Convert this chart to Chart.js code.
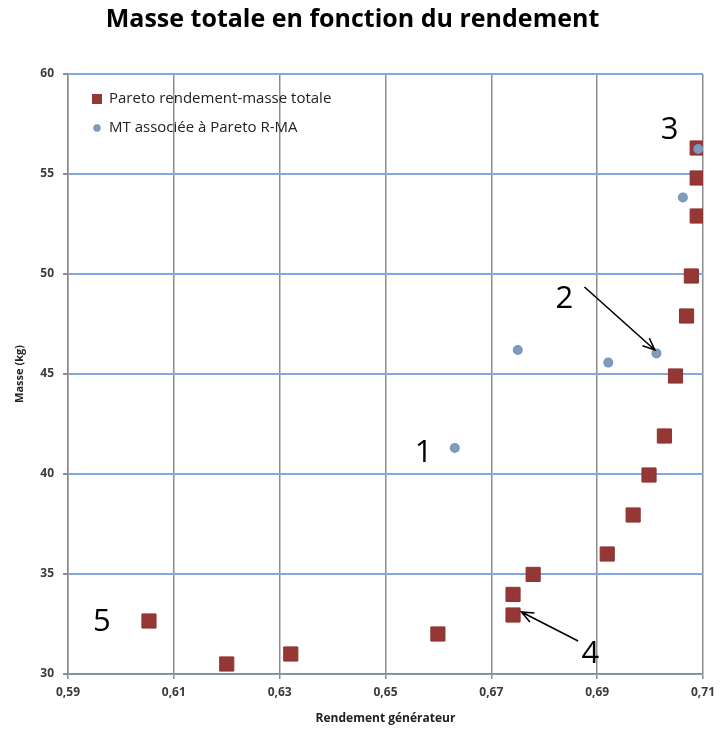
<!DOCTYPE html>
<html>
<head>
<meta charset="utf-8">
<script src="https://cdn.jsdelivr.net/npm/chart.js@4/dist/chart.umd.min.js"></script>
<style>
	html, body { margin: 0; padding: 0; background: #fff; }
	#wrap { width: 721px; height: 735px; }
</style>
</head>
<body>
<div id="wrap"><canvas id="chart" width="721" height="735"></canvas></div>
<script>
// Pareto rendement-masse totale
const paretoRendement = [0.6053, 0.6200, 0.6321, 0.6599, 0.6741, 0.6741, 0.6779, 0.6919, 0.6968, 0.6998, 0.7027, 0.7048, 0.7069, 0.7078, 0.7089, 0.7089, 0.7089]
const paretoMasse = [32.65, 30.5, 31.0, 32.0, 33.98, 32.95, 34.98, 36.0, 37.95, 39.95, 41.9, 44.9, 47.9, 49.9, 52.9, 54.8, 56.3]

// MT associée à Pareto R-MA
const mtRendement = [0.6631, 0.6750, 0.6921, 0.7012, 0.7062, 0.7091]
const mtMasse = [41.3, 46.2, 45.57, 46.03, 53.83, 56.25]

const xTicks = [0.59, 0.61, 0.63, 0.65, 0.67, 0.69, 0.71]
const yTicks = [30, 35, 40, 45, 50, 55, 60]

// numbered callouts and arrows (data coordinates)
const calloutLabels = ['1', '2', '3', '4', '5']
const calloutX = [0.6572, 0.6838, 0.7037, 0.6887, 0.5964]
const calloutY = [41.05, 48.75, 57.2, 31.0, 32.6]
const arrowFrom = [[0.6876, 49.35], [0.6864, 31.65]]
const arrowTo = [[0.7009, 46.2], [0.6757, 33.1]]

const font = "'Open Sans', 'Noto Sans', sans-serif"

function toPoints(xs, ys) {
	return xs.map((x, i) => ({ x: x, y: ys[i] }))
}

const annotationPlugin = {
	id: 'callouts',
	afterDatasetsDraw(chart) {
		const ctx = chart.ctx
		const xs = chart.scales.x
		const ys = chart.scales.y
		ctx.save()
		ctx.fillStyle = '#000'
		ctx.font = '31px ' + font
		ctx.textAlign = 'center'
		ctx.textBaseline = 'middle'
		calloutLabels.forEach((t, i) => {
			ctx.fillText(t, xs.getPixelForValue(calloutX[i]), ys.getPixelForValue(calloutY[i]))
		})
		ctx.strokeStyle = '#000'
		ctx.lineWidth = 1.6
		arrowFrom.forEach((f, i) => {
			const x1 = xs.getPixelForValue(f[0])
			const y1 = ys.getPixelForValue(f[1])
			const x2 = xs.getPixelForValue(arrowTo[i][0])
			const y2 = ys.getPixelForValue(arrowTo[i][1])
			const a = Math.atan2(y2 - y1, x2 - x1)
			ctx.beginPath()
			ctx.moveTo(x1, y1)
			ctx.lineTo(x2, y2)
			ctx.moveTo(x2 - 13 * Math.cos(a - 0.4), y2 - 13 * Math.sin(a - 0.4))
			ctx.lineTo(x2, y2)
			ctx.lineTo(x2 - 13 * Math.cos(a + 0.4), y2 - 13 * Math.sin(a + 0.4))
			ctx.stroke()
		})

		// legend inside the plot area
		const left = chart.chartArea.left
		const top = chart.chartArea.top
		ctx.font = '15px ' + font
		ctx.textAlign = 'left'
		ctx.fillStyle = '#953735'
		ctx.fillRect(left + 24, top + 20, 10, 10)
		ctx.fillStyle = '#222'
		ctx.fillText('Pareto rendement-masse totale', left + 41, top + 25)
		ctx.beginPath()
		ctx.arc(left + 29, top + 54, 3, 0, Math.PI * 2)
		ctx.fillStyle = '#8e9aa4'
		ctx.fill()
		ctx.strokeStyle = '#6f9ad0'
		ctx.lineWidth = 1.4
		ctx.stroke()
		ctx.fillStyle = '#222'
		ctx.fillText('MT associée à Pareto R-MA', left + 41, top + 54)
		ctx.restore()
	},
}

const ctx = document.getElementById('chart').getContext('2d')
new Chart(ctx, {
	type: 'scatter',
	data: {
		datasets: [
			{
				label: 'Pareto rendement-masse totale',
				data: toPoints(paretoRendement, paretoMasse),
				pointStyle: 'rect',
				pointRadius: 10,
				backgroundColor: '#953735',
				borderColor: '#8c3331',
				borderWidth: 1,
				order: 1,
			},
			{
				label: 'MT associée à Pareto R-MA',
				data: toPoints(mtRendement, mtMasse),
				pointStyle: 'circle',
				pointRadius: 4,
				backgroundColor: '#8e9aa4',
				borderColor: '#6f9ad0',
				borderWidth: 2,
				order: 0,
			},
		],
	},
	options: {
		responsive: false,
		animation: false,
		layout: {
			padding: { left: 0, right: 16, top: 0, bottom: 0 },
		},
		scales: {
			x: {
				type: 'linear',
				min: 0.59,
				max: 0.71,
				afterBuildTicks: (scale) => {
					scale.ticks = xTicks.map((v) => ({ value: v }))
				},
				afterFit: (scale) => {
					scale.height = 61
				},
				ticks: {
					callback: (v) => v.toFixed(2).replace('.', ','),
					font: { family: font, size: 12, weight: 'bold' },
					color: '#3a3a3a',
					padding: 6,
				},
				grid: {
					color: '#8c8c8c',
					tickColor: '#8c8c8c',
					tickLength: 5,
					lineWidth: 1.5,
				},
				border: { color: '#8c8c8c', width: 1.5 },
				title: {
					display: true,
					text: 'Rendement générateur',
					font: { family: font, size: 12, weight: 'bold' },
					color: '#222',
					padding: { top: 4, bottom: 9 },
				},
			},
			y: {
				type: 'linear',
				min: 30,
				max: 60,
				afterBuildTicks: (scale) => {
					scale.ticks = yTicks.map((v) => ({ value: v }))
				},
				afterFit: (scale) => {
					scale.width = 68
				},
				ticks: {
					font: { family: font, size: 12, weight: 'bold' },
					color: '#3a3a3a',
					padding: 9,
				},
				grid: {
					color: '#85a8dc',
					tickColor: '#8c8c8c',
					tickLength: 5,
					lineWidth: 2,
				},
				border: { color: '#8c8c8c', width: 1.5 },
				title: {
					display: true,
					text: 'Masse (kg)',
					font: { family: font, size: 11, weight: 'bold' },
					color: '#222',
					padding: { top: 13, bottom: 2 },
				},
			},
		},
		plugins: {
			legend: { display: false },
			tooltip: { enabled: false },
			title: {
				display: true,
				text: 'Masse totale en fonction du rendement',
				font: { family: font, size: 25, weight: 'bold' },
				color: '#000',
				padding: { top: 5, bottom: 39 },
			},
		},
	},
	plugins: [annotationPlugin],
})
</script>
</body>
</html>
